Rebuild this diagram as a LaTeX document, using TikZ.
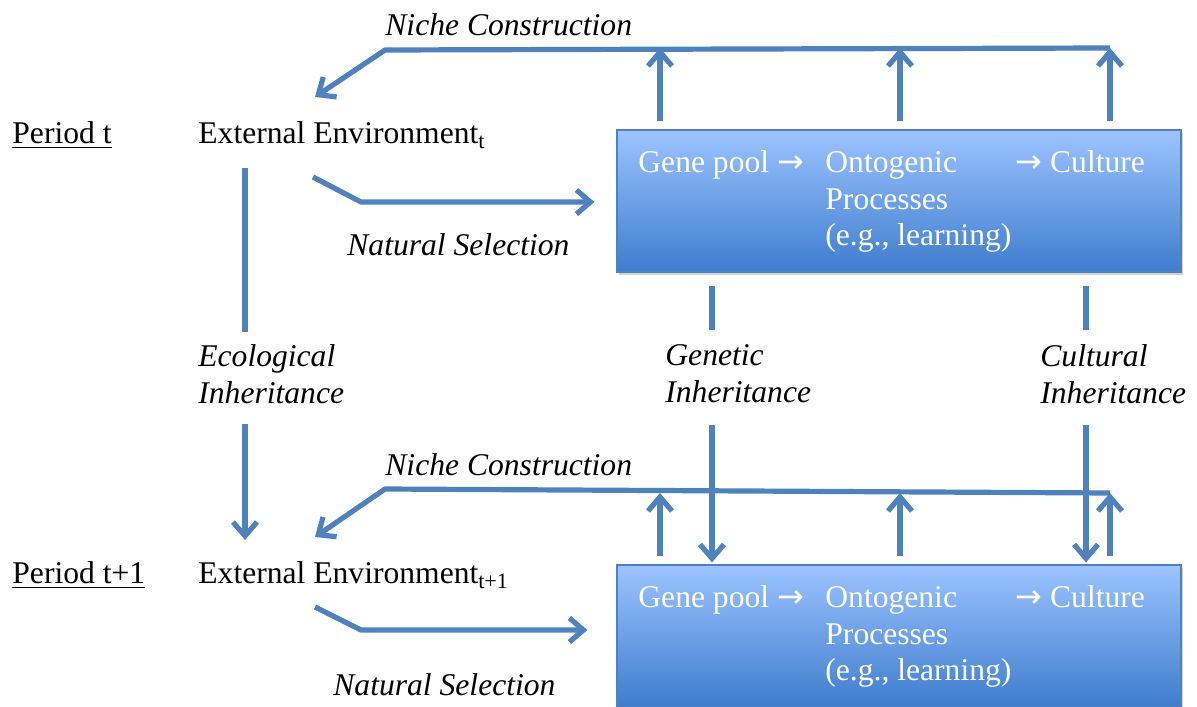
\documentclass[tikz,border=0pt]{standalone}
\usepackage{fontspec}
\setmainfont{Liberation Serif}
\newfontfamily\arrowfont{DejaVu Sans}
\usepackage{xcolor}
\usetikzlibrary{arrows.meta,shadows,positioning}
\definecolor{linkblue}{HTML}{4F81BD}
\definecolor{boxtop}{HTML}{9CC3FF}
\definecolor{boxbottom}{HTML}{3E7DCD}
\newcommand{\rarr}{{\arrowfont\fontsize{16}{16}\selectfont →}}

\begin{document}
\begin{tikzpicture}[x=0.5pt,y=-0.5pt,
        txt/.style={inner sep=0pt, font=\fontsize{15.8}{18.5}\selectfont, align=left},
        itxt/.style={txt, font=\fontsize{15.8}{18.5}\selectfont\itshape},
        boxtxt/.style={txt, text=white, anchor=base west},
        link/.style={draw=linkblue, line width=2.6pt},
        linkarrow/.style={link, -{Straight Barb[length=7pt,width=12pt]}},
        procbox/.style={draw=linkblue, line width=0.6pt, top color=boxtop, bottom color=boxbottom,
            minimum width=282pt, minimum height=71pt, inner sep=0pt,
            drop shadow={shadow xshift=1pt, shadow yshift=-1.5pt, opacity=0.35}}]
    \useasboundingbox (0,0) rectangle (1197,706);

    % period t
    \node[txt, anchor=west] (periodt) at (12,135) {\underline{Period t}};
    \node[txt, anchor=west] (envt) at (198,135) {External Environment\textsubscript{t}};
    \node[procbox] (boxt) at (899,201) {};
    \node[boxtxt] (genet) at (638,172) {Gene pool \rarr};
    \node[boxtxt] (ontot) at (825,172) {Ontogenic};
    \node[boxtxt] (proct) at (825,209) {Processes};
    \node[boxtxt] (learnt) at (825,245) {(e.g., learning)};
    \node[boxtxt] (cultt) at (1015,172) {\rarr{} Culture};
    \node[itxt, anchor=west] (nichet) at (385,25) {Niche Construction};
    \node[itxt, anchor=west] (selt) at (347,245) {Natural Selection};

    % inheritance
    \node[itxt, anchor=west] (ecolab) at (198,374) {Ecological\\Inheritance};
    \node[itxt, anchor=west] (genlab) at (665,374) {Genetic\\Inheritance};
    \node[itxt, anchor=west] (cullab) at (1040,374) {Cultural\\Inheritance};

    % period t+1
    \node[txt, anchor=west] (periodb) at (12,575) {\underline{Period t+1}};
    \node[txt, anchor=west] (envb) at (198,575) {External Environment\textsubscript{t+1}};
    \node[procbox] (boxb) at (899,636) {};
    \node[boxtxt] (geneb) at (638,607) {Gene pool \rarr};
    \node[boxtxt] (ontob) at (825,607) {Ontogenic};
    \node[boxtxt] (procb) at (825,644) {Processes};
    \node[boxtxt] (learnb) at (825,680) {(e.g., learning)};
    \node[boxtxt] (cultb) at (1015,607) {\rarr{} Culture};
    \node[itxt, anchor=west] (nicheb) at (385,465) {Niche Construction};
    \node[itxt, anchor=west] (selb) at (333,685) {Natural Selection};

    % niche construction loops
    \coordinate (nrt) at (1110,48);  \coordinate (nlt) at (385,50);  \coordinate (ntipt) at (315,97);
    \coordinate (nrb) at (1110,493); \coordinate (nlb) at (385,489); \coordinate (ntipb) at (315,537);
    \draw[linkarrow, line join=round] (nrt) -- (nlt) -- (ntipt);
    \draw[linkarrow, line join=round] (nrb) -- (nlb) -- (ntipb);
    \foreach \i/\x in {1/660,2/900,3/1110} {
            \coordinate (up\i) at (\x,0);
            \draw[linkarrow, shorten <=4pt] (boxt.north -| up\i) -- (up\i |- nrt);
            \draw[linkarrow, shorten <=4pt] (boxb.north -| up\i) -- (up\i |- nrb);
        }

    % natural selection
    \coordinate (st) at (313,177); \coordinate (sb) at (315,607);
    \draw[linkarrow, line join=round] (st) -- ++(48,25) -- ([xshift=-11pt]boxt.west |- 0,202);
    \draw[linkarrow, line join=round] (sb) -- ++(46,23) -- ([xshift=-14.5pt]boxb.west |- 0,630);

    % inheritance links
    \coordinate (eco) at (245,0); \coordinate (gen) at (712,0); \coordinate (cul) at (1086,0);
    \draw[link] (eco |- 0,168) -- (eco |- 0,332);
    \draw[linkarrow] (eco |- 0,424) -- (eco |- 0,540);
    \foreach \c in {gen,cul} {
            \draw[link, shorten <=6.5pt] (boxt.south -| \c) -- (\c |- 0,330);
            \draw[linkarrow, shorten >=1pt] (\c |- 0,425) -- (boxb.north -| \c);
        }
\end{tikzpicture}
\end{document}
